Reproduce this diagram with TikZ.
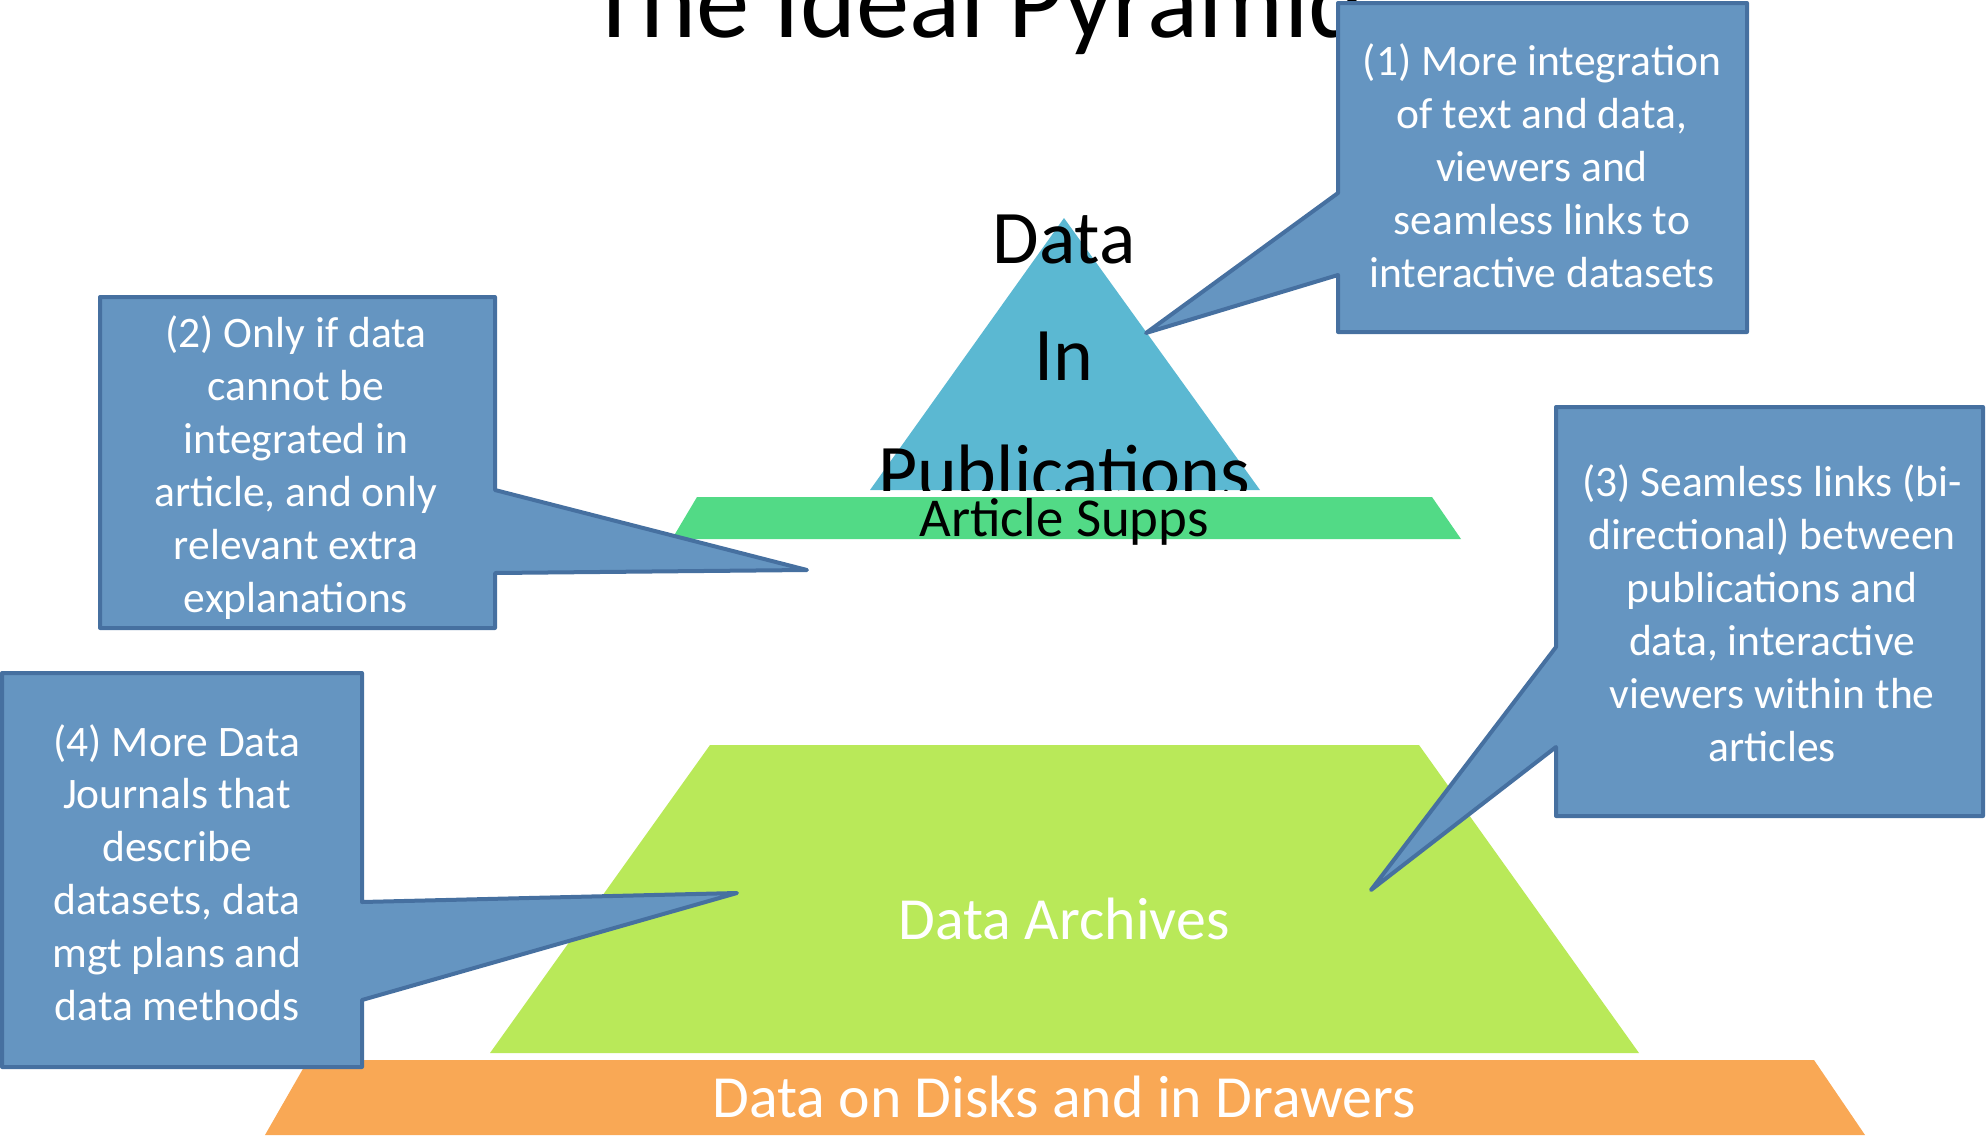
\documentclass[tikz,border=0pt]{standalone}
\usepackage{fontspec}
\setmainfont{Carlito}
\definecolor{notefill}{RGB}{101,149,193}
\definecolor{noteline}{RGB}{70,112,160}
\definecolor{pubblue}{RGB}{91,184,210}
\definecolor{suppgreen}{RGB}{82,218,134}
\definecolor{archgreen}{RGB}{185,233,89}
\definecolor{diskorange}{RGB}{249,168,85}
\begin{document}
\begin{tikzpicture}[x=1bp,y=-1bp,
  notebox/.style={fill=notefill,draw=noteline,line width=4bp,line join=round},
  notetext/.style={text=white,align=center,anchor=base,inner sep=0pt,
    font=\fontsize{43.7}{53}\selectfont},
  layertext/.style={anchor=base,inner sep=0pt,font=\fontsize{60}{72}\selectfont}]
%
% Seite, oben angeschnitten
\useasboundingbox (0,0) rectangle (1987,1135);
\clip (0,0) rectangle (1987,1135);
\node[anchor=base west,inner sep=0pt,font=\fontsize{107}{128}\selectfont]
  (title) at (588,37) {The Ideal Pyramid};
%
% --- Pyramide, von unten nach oben ---
% Sockel
\fill[diskorange] (308,1060) -- (1814,1060) -- (1865,1135) -- (265,1135) -- cycle;
\node[layertext,text=white] (disks) at (1064,1117) {Data on Disks and in Drawers};
% Archive
\fill[archgreen] (710,745) -- (1419,745) -- (1639,1053) -- (490,1053) -- cycle;
\node[layertext,text=white] (archives) at (1064,939) {Data Archives};
% Supplements
\fill[suppgreen] (697,497) -- (1432,497) -- (1461,539) -- (672,539) -- cycle;
\node[layertext,font=\fontsize{55}{66}\selectfont] (supps) at (1064,536) {Article Supps};
% Spitze, Text unten an der Basis abgeschnitten
\fill[pubblue] (1064,218) -- (1260,490) -- (870,490) -- cycle;
\begin{scope}
  \clip (0,0) rectangle (1987,490);
  % base = Grundlinie der letzten Zeile
  \node[layertext,align=center,font=\fontsize{76}{117}\selectfont]
    (pub) at (1064,497) {Data\\In\\Publications};
\end{scope}
%
% --- Sprechblasen ---
% (1) rechts oben
\draw[notebox] (1338,3) -- (1747,3) -- (1747,332) -- (1338,332) -- (1338,275)
  -- (1146,333) -- (1338,193) -- cycle;
\node[notetext] (note1) at (1542,287)
  {(1) More integration\\of text and data,\\viewers and\\seamless links to\\interactive datasets};
% (2) links oben
\draw[notebox] (100,297) -- (495,297) -- (495,490) -- (807,570) -- (495,573)
  -- (495,628) -- (100,628) -- cycle;
\node[notetext] (note2) at (296,612)
  {(2) Only if data\\cannot be\\integrated in\\article, and only\\relevant extra\\explanations};
% (3) rechts unten
\draw[notebox] (1556,407) -- (1983,407) -- (1983,816) -- (1556,816) -- (1556,747)
  -- (1371,890) -- (1556,647) -- cycle;
\node[notetext] (note3) at (1772,761)
  {(3) Seamless links (bi-\\directional) between\\publications and\\data, interactive\\viewers within the\\articles};
% (4) links unten
\draw[notebox] (2,673) -- (362,673) -- (362,902) -- (737,893) -- (362,1000)
  -- (362,1067) -- (2,1067) -- cycle;
\node[notetext] (note4) at (177,1020)
  {(4) More Data\\Journals that\\describe\\datasets, data\\mgt plans and\\data methods};
\end{tikzpicture}
\end{document}
